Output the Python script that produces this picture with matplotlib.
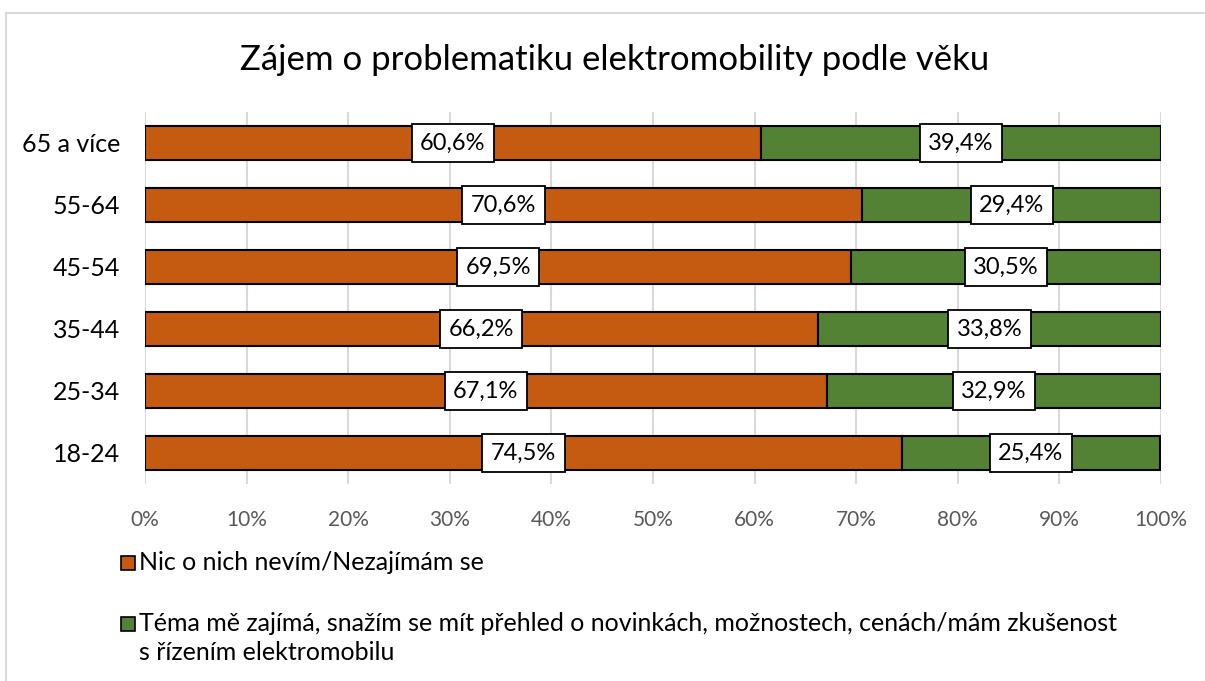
import matplotlib.pyplot as plt
from matplotlib.patches import Rectangle

plt.rcParams['font.family'] = ['Lato', 'DejaVu Sans']

# data (percent)
kategorie = ['18-24', '25-34', '35-44', '45-54', '55-64', '65 a více']
nezajem = [74.5, 67.1, 66.2, 69.5, 70.6, 60.6]
zajem = [25.4, 32.9, 33.8, 30.5, 29.4, 39.4]
nezajem_popisky = ['74,5%', '67,1%', '66,2%', '69,5%', '70,6%', '60,6%']
zajem_popisky = ['25,4%', '32,9%', '33,8%', '30,5%', '29,4%', '39,4%']
legenda = ['Nic o nich nevím/Nezajímám se',
           'Téma mě zajímá, snažím se mít přehled o novinkách, možnostech, cenách/mám zkušenost\ns řízením elektromobilu']
tick_x = [0, 10, 20, 30, 40, 50, 60, 70, 80, 90, 100]

oranzova = '#C55A11'
zelena = '#548235'

W, H = 1205, 681
fig = plt.figure(figsize=(W / 100, H / 100), dpi=100)

# ramecek grafu
fig.patches.append(Rectangle((6 / W, -0.1), 1.2, 1 - 12.5 / H + 0.1, transform=fig.transFigure,
                             fill=False, edgecolor='#D9D9D9', lw=1.5))

ax = fig.add_axes([145 / W, 1 - 484 / H, (1161 - 145) / W, (484 - 112) / H])

y = range(len(kategorie))
ax.barh(y, nezajem, height=0.55, color=oranzova, edgecolor='black', lw=1.5, zorder=3)
ax.barh(y, zajem, left=nezajem, height=0.55, color=zelena, edgecolor='black', lw=1.5, zorder=3)

box = dict(boxstyle='square,pad=0.36', facecolor='white', edgecolor='black', lw=1.3)
for i in y:
    ax.text(nezajem[i] / 2, i, nezajem_popisky[i], ha='center', va='center', fontsize=17, bbox=box, zorder=5)
    ax.text(nezajem[i] + zajem[i] / 2, i, zajem_popisky[i], ha='center', va='center', fontsize=17, bbox=box, zorder=5)

ax.set_xlim(0, 100)
ax.set_ylim(-0.5, len(kategorie) - 0.5)
ax.set_xticks(tick_x)
ax.set_xticklabels([f'{t}%' for t in tick_x], color='#595959', fontsize=15)
ax.set_yticks(list(y))
ax.set_yticklabels(kategorie, fontsize=18)
ax.tick_params(length=0)
ax.tick_params(axis='x', pad=19)
ax.tick_params(axis='y', pad=18)
ax.grid(axis='x', color='#D9D9D9', lw=1.5, zorder=0)
for s in ax.spines.values():
    s.set_visible(False)

fig.suptitle('Zájem o problematiku elektromobility podle věku', x=0.51, y=1 - 60 / H, va='center', fontsize=25)

# legenda - ctverecky a text
leg_y = [563, 624]
for barva, text, ly in zip([oranzova, zelena], legenda, leg_y):
    fig.patches.append(Rectangle((121 / W, 1 - (ly + 7) / H), 14 / W, 14 / H, transform=fig.transFigure,
                                 facecolor=barva, edgecolor='black', lw=1.2))
    fig.text(139 / W, 1 - (ly - 12) / H, text, ha='left', va='top', fontsize=18, linespacing=1.3)

fig.savefig('out.png', dpi=100)
